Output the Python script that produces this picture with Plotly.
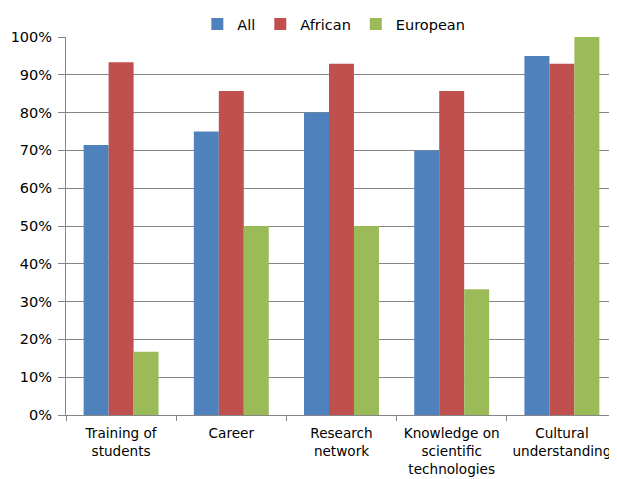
import plotly.graph_objects as go

categories = ["Training of<br>students", "Career", "Research<br>network",
              "Knowledge on<br>scientific<br>technologies", "Cultural<br>understanding"]
all_vals = [0.714, 0.75, 0.80, 0.70, 0.95]
african_vals = [0.933, 0.857, 0.929, 0.857, 0.929]
european_vals = [0.167, 0.50, 0.50, 0.333, 1.00]

series = [("All", all_vals, "#4F81BD"),
          ("African", african_vals, "#C0504D"),
          ("European", european_vals, "#9BBB59")]

fig = go.Figure()
for name, vals, color in series:
    fig.add_trace(go.Bar(x=categories, y=vals, name=name, marker_color=color,
                         marker_line_width=0))

# the page body has an 8px default margin, so the figure is sized to fit the window
family = "DejaVu Sans, Verdana, sans-serif"
font = dict(family=family, size=14.5, color="#000000")
fig.update_layout(
    width=609, height=471,
    margin=dict(l=58, r=0, t=29, b=64, autoexpand=False),
    paper_bgcolor="white", plot_bgcolor="white",
    font=font,
    barmode="group", bargap=0.32, bargroupgap=0,
    legend=dict(orientation="h", xref="container", x=0.535, xanchor="center",
                yref="container", y=1.0, yanchor="top", font=font,
                itemwidth=30, tracegroupgap=0),
    xaxis=dict(showline=True, linecolor="#868686", linewidth=1,
               ticks="outside", tickson="boundaries", ticklen=5,
               tickcolor="#868686", showgrid=False, automargin=False,
               tickangle=0, ticklabelstandoff=6,
               tickfont=dict(family=family, size=13.6, color="#000000")),
    yaxis=dict(range=[0, 1], dtick=0.1, tickformat=".0%",
               showline=True, linecolor="#868686", linewidth=1,
               ticks="outside", ticklen=7, tickcolor="#868686",
               ticklabelstandoff=3,
               showgrid=True, gridcolor="#868686", gridwidth=1,
               zeroline=False, automargin=False),
)
fig.write_html("out.html")
